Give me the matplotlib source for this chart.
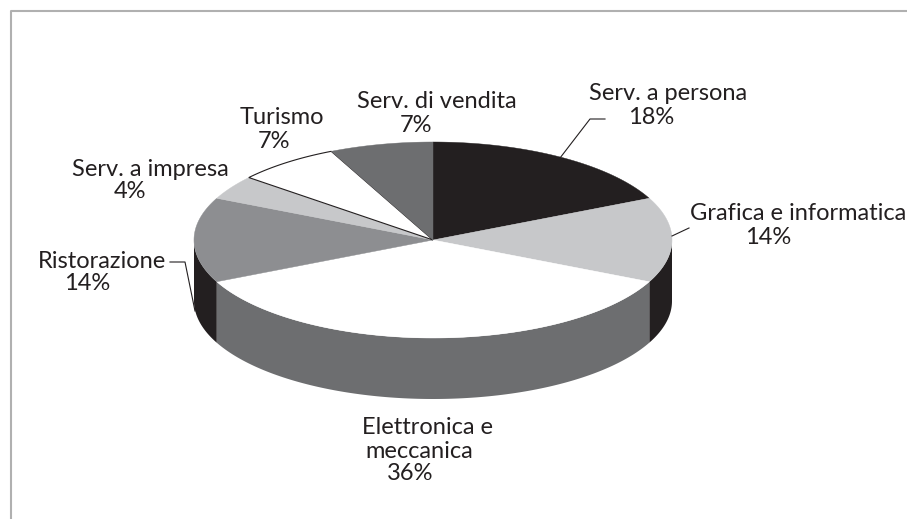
import matplotlib
matplotlib.use("Agg")
import matplotlib.pyplot as plt
import numpy as np

# clockwise from 12 o'clock
names = ["Serv. a persona", "Grafica e informatica", "Elettronica e\nmeccanica",
         "Ristorazione", "Serv. a impresa", "Turismo", "Serv. di vendita"]
shares = [18, 14, 36, 14, 4, 7, 7]
top_colors = ["#231f20", "#c7c8ca", "#ffffff", "#8d8e91", "#c7c8ca", "#ffffff", "#6d6e70"]
side_colors = ["#231f20", "#231f20", "#6d6e70", "#231f20", "#c7c8ca", "#ffffff", "#6d6e70"]

# layout in pixels, one entry per text line
cx, cy, rx, ry, depth = 433, 240, 239, 98, 61
name_pos = [[(668, 94)], [(798, 214)], [(427, 428), (419, 451)], [(102, 262)],
            [(150, 169)], [(282, 118)], [(437, 102)]]
pct_pos = [(651, 117), (768, 237), (410, 474), (87, 284), (130, 191), (274, 142), (416, 125)]
leaders = [([560, 590, 605], [158, 119, 119]),
           ([672, 689], [236, 228]),
           ([170, 185, 195], [262, 262, 311])]

fig = plt.figure(figsize=(9.07, 5.19), dpi=100)
ax = fig.add_axes([0, 0, 1, 1])
ax.set_xlim(0, 907)
ax.set_ylim(519, 0)
ax.axis("off")

# frame: left and top only
ax.plot([10.5, 10.5, 907], [519, 11, 11], color="#b0b0b0", lw=1.5, zorder=1)

edges = np.cumsum([0] + shares) / sum(shares) * 2 * np.pi


def ex(t):
    return cx + rx * np.sin(t)


def ey(t):
    return cy - ry * np.cos(t)


# side wall, only the front half shows (pi/2 .. 3pi/2)
for i in range(len(shares)):
    a = max(edges[i], np.pi / 2)
    b = min(edges[i + 1], 3 * np.pi / 2)
    if b <= a:
        continue
    t = np.linspace(a, b, 120)
    xs = np.r_[ex(t), ex(t[::-1])]
    ys = np.r_[ey(t), ey(t[::-1]) + depth]
    ax.fill(xs, ys, color=side_colors[i], lw=0, zorder=2)

# top face
for i in range(len(shares)):
    t = np.linspace(edges[i], edges[i + 1], 120)
    xs = np.r_[cx, ex(t)]
    ys = np.r_[cy, ey(t)]
    ec = "#231f20" if names[i] == "Turismo" else top_colors[i]
    lw = 0.8 if names[i] == "Turismo" else 0.3
    ax.fill(xs, ys, facecolor=top_colors[i], edgecolor=ec, lw=lw, zorder=3)

for lx, ly in leaders:
    ax.plot(lx, ly, color="#231f20", lw=0.8, zorder=4)

for n, s, lines, pp in zip(names, shares, name_pos, pct_pos):
    for part, p in zip(n.split("\n"), lines):
        ax.text(p[0], p[1], part, family="Lato", fontsize=17, color="#231f20",
                ha="center", va="center", zorder=5)
    ax.text(pp[0], pp[1], f"{s}%", family="Lato", fontsize=17, color="#231f20",
            ha="center", va="center", zorder=5)

fig.savefig("out.png", dpi=100)
